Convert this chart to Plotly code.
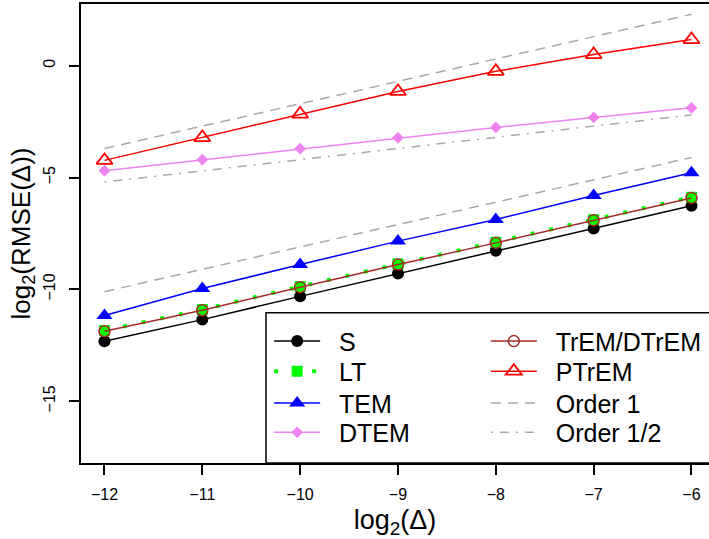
import plotly.graph_objects as go

x = [-12, -11, -10, -9, -8, -7, -6]
S = [-12.32, -11.35, -10.31, -9.29, -8.27, -7.28, -6.26]
LT = [-11.84, -10.90, -9.87, -8.86, -7.89, -6.88, -5.88]
TEM = [-11.17, -9.96, -8.89, -7.84, -6.87, -5.80, -4.78]
DTEM = [-4.69, -4.20, -3.71, -3.22, -2.76, -2.31, -1.88]
TrEM = [-11.87, -10.93, -9.90, -8.89, -7.92, -6.91, -5.91]
PTrEM = [-4.23, -3.21, -2.16, -1.15, -0.25, 0.50, 1.17]
order1_upper = [-3.70, 2.30]
order1_lower = [-10.10, -4.10]
order_half = [-5.20, -2.20]
ref_x = [-12, -6]

FONT = "Liberation Sans, Arial, sans-serif"
GRAY = "#A9A9A9"
PAD = "\u00a0\u00a0"

fig = go.Figure()

def add(name, y, color, legend, symbol=None, msize=10, dash="solid", width=1.5,
        xs=x, mode="lines+markers", mline=None, showlegend=True):
    marker = dict(color=color, size=msize, symbol=symbol) if symbol else None
    if marker is not None and mline is not None:
        marker["line"] = mline
    fig.add_trace(go.Scatter(
        x=xs, y=y, name=PAD + name, mode=mode,
        line=dict(color=color, width=width, dash=dash),
        marker=marker, legend=legend, showlegend=showlegend))

# reference lines (order guides)
add("Order 1", order1_upper, GRAY, "legend7", dash="10px,7px", xs=ref_x, mode="lines")
add("Order 1", order1_lower, GRAY, "legend7", dash="10px,7px", xs=ref_x, mode="lines",
    showlegend=False)
add("Order 1/2", order_half, GRAY, "legend8", dash="2px,7px,9px,7px", xs=ref_x, mode="lines")

# data series
add("S", S, "black", "legend", symbol="circle", msize=12)
add("LT", LT, "#00FF00", "legend2", symbol="square", msize=11, dash="4px,15px", width=4)
add("TEM", TEM, "#0000FF", "legend3", symbol="triangle-up", msize=14)
add("DTEM", DTEM, "#EE82EE", "legend4", symbol="diamond", msize=9)
add("TrEM/DTrEM", TrEM, "#A52A2A", "legend5", symbol="circle-open", msize=11,
    mline=dict(width=1.5, color="#A52A2A"))
add("PTrEM", PTrEM, "#FF0000", "legend6", symbol="triangle-up-open", msize=14,
    mline=dict(width=1.8, color="#FF0000"))

legend_common = dict(
    font=dict(family=FONT, size=25, color="black"),
    bgcolor="rgba(0,0,0,0)", borderwidth=0,
    itemwidth=46, yanchor="middle", xanchor="left",
)

rows = [0.2650, 0.1995, 0.1300, 0.0665]
col1, col2 = 0.2996, 0.6446
legends = {}
for i, yv in enumerate(rows):
    legends["legend" if i == 0 else f"legend{i + 1}"] = dict(x=col1, y=yv, **legend_common)
    legends[f"legend{i + 5}"] = dict(x=col2, y=yv, **legend_common)

fig.update_layout(
    width=709, height=539,
    margin=dict(l=81, r=0, t=4, b=76, autoexpand=False),
    paper_bgcolor="white", plot_bgcolor="white",
    font=dict(family=FONT, size=16, color="black"),
    showlegend=True,
    xaxis=dict(
        range=[-12.24, -5.821], tickvals=x, ticks="outside", ticklen=10,
        tickwidth=1.5, tickcolor="black", showline=True, linecolor="black",
        linewidth=1.5, mirror=True, showgrid=False, zeroline=False,
        tickfont=dict(size=16), ticklabelstandoff=6, automargin=False,
        title=dict(text="log<sub>2</sub>(Δ)", font=dict(size=27), standoff=8),
    ),
    yaxis=dict(
        range=[-17.76, 2.76], tickvals=[0, -5, -10, -15], ticks="outside",
        ticklen=10, tickwidth=1.5, tickcolor="black", showline=True,
        linecolor="black", linewidth=1.5, mirror=False, showgrid=False,
        zeroline=False, tickangle=-90, tickfont=dict(size=16),
        ticklabelstandoff=8, automargin=False,
        title=dict(text="log<sub>2</sub>(RMSE(Δ))", font=dict(size=26), standoff=3),
    ),
    shapes=[dict(type="rect", xref="paper", yref="paper",
                 x0=0.2946, x1=1.05, y0=0, y1=0.3275,
                 line=dict(color="black", width=1.5), fillcolor="white",
                 layer="below")],
    **legends,
)

fig.write_html("out.html", config={"displayModeBar": False},
               post_script="document.body.style.margin='0';")
